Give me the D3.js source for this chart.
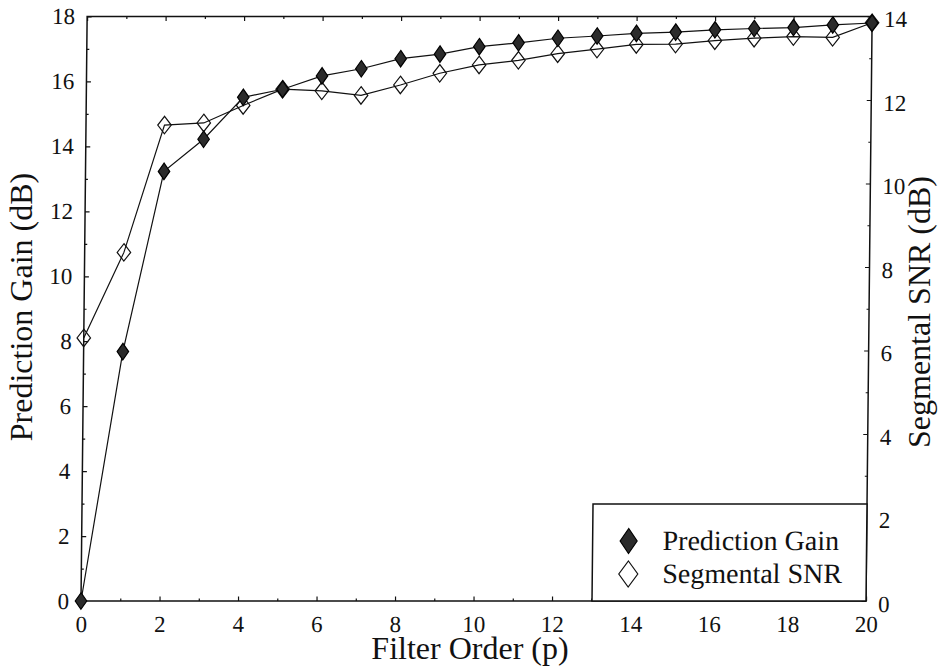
<!DOCTYPE html>
<html><head><meta charset="utf-8">
<script src="https://cdn.jsdelivr.net/npm/d3@7"></script>
</head>
<body style="margin:0;background:#fff"><svg id="c" width="943" height="670"></svg>
<script>
const filterOrder = [0,1,2,3,4,5,6,7,8,9,10,11,12,13,14,15,16,17,18,19,20];
const predictionGain = [0, 7.68, 13.23, 14.22, 15.51, 15.76, 16.17, 16.39, 16.70, 16.84, 17.07, 17.19, 17.33, 17.40, 17.48, 17.52, 17.59, 17.63, 17.66, 17.74, 17.80];
const segmentalSNR = [6.30, 8.35, 11.40, 11.45, 11.87, 12.26, 12.22, 12.11, 12.36, 12.64, 12.84, 12.95, 13.11, 13.22, 13.33, 13.34, 13.42, 13.48, 13.52, 13.50, 13.85];
const xTicks = [0,2,4,6,8,10,12,14,16,18,20];
const leftTicks = [0,2,4,6,8,10,12,14,16,18];
const rightTicks = [0,2,4,6,8,10,12,14];
const legendLabels = ["Prediction Gain","Segmental SNR"];

const fam = "Liberation Serif";
const FONT = `'${fam}', monospace`;
const L = 81, R = 866, T = 16.5, B = 601;
const k = -0.0105;
const svg = d3.select("#c");
svg.append("rect").attr("width",943).attr("height",670).attr("fill","#fff");
const g = svg.append("g").attr("transform", `matrix(1,0,${k},1,${-k*B},0)`);

const x = d3.scaleLinear().domain([0,20]).range([L,R]);
const yL = d3.scaleLinear().domain([0,18]).range([B,T]);
const yR = d3.scaleLinear().domain([0,14]).range([B,T]);

const odd = (n) => d3.range(1,n,2);

function styleAxis(sel, fs){
  sel.attr("font-family", null);
  sel.select(".domain").remove();
  sel.selectAll("line").attr("stroke","#111").attr("stroke-width",1.2);
  sel.selectAll("text").attr("font-size",fs).attr("fill","#111");
}

// bottom
g.append("g").attr("transform",`translate(0,${B})`)
  .call(d3.axisBottom(x).tickValues(xTicks).tickSize(-4.5).tickPadding(9).tickFormat(d3.format("d")))
  .call(s=>styleAxis(s,23)).call(s=>s.selectAll("text").attr("dy","0.95em"));
g.append("g").attr("transform",`translate(0,${B})`)
  .call(d3.axisBottom(x).tickValues(odd(20)).tickSize(-2.5).tickFormat(""))
  .call(s=>styleAxis(s,23));
// top
g.append("g").attr("transform",`translate(0,${T})`)
  .call(d3.axisTop(x).tickValues(xTicks).tickSize(-4.5).tickFormat(""))
  .call(s=>styleAxis(s,23));
g.append("g").attr("transform",`translate(0,${T})`)
  .call(d3.axisTop(x).tickValues(odd(20)).tickSize(-2.5).tickFormat(""))
  .call(s=>styleAxis(s,23));
// left
g.append("g").attr("transform",`translate(${L},0)`)
  .call(d3.axisLeft(yL).tickValues(leftTicks).tickSize(-4.5).tickPadding(12).tickFormat(d3.format("d")))
  .call(s=>styleAxis(s,23));
g.append("g").attr("transform",`translate(${L},0)`)
  .call(d3.axisLeft(yL).tickValues(odd(18)).tickSize(-2.5).tickFormat(""))
  .call(s=>styleAxis(s,23));
// right
g.append("g").attr("transform",`translate(${R},0)`)
  .call(d3.axisRight(yR).tickValues(rightTicks).tickSize(-4.5).tickPadding(12).tickFormat(d3.format("d")))
  .call(s=>styleAxis(s,23)).call(s=>s.selectAll("text").attr("dy","0.45em"));
g.append("g").attr("transform",`translate(${R},0)`)
  .call(d3.axisRight(yR).tickValues(odd(14)).tickSize(-2.5).tickFormat(""))
  .call(s=>styleAxis(s,23));

// frame
g.append("rect").attr("x",L).attr("y",T).attr("width",R-L).attr("height",B-T)
  .attr("fill","none").attr("stroke","#111").attr("stroke-width",1.5);

// legend box
const lgX = 592, lgY = 504;
g.append("rect").attr("x",lgX).attr("y",lgY).attr("width",R-lgX).attr("height",B-lgY)
  .attr("fill","#fff").attr("stroke","#111").attr("stroke-width",1.5);

function diamond(w,h){ return `M0,${-h/2}L${w/2},0L0,${h/2}L${-w/2},0Z`; }

const line = d3.line();
// Segmental SNR (open)
const snrPts = filterOrder.map((p,i)=>[x(p), yR(segmentalSNR[i])]);
g.append("path").attr("d",line(snrPts)).attr("fill","none").attr("stroke","#111").attr("stroke-width",1.2);
g.selectAll(".snr").data(snrPts).join("path").attr("class","snr")
  .attr("transform",d=>`translate(${d[0]},${d[1]})`).attr("d",diamond(13.5,17.5))
  .attr("fill","none").attr("stroke","#111").attr("stroke-width",1.2);
// Prediction gain (filled)
const pgPts = filterOrder.map((p,i)=>[x(p), yL(predictionGain[i])]);
g.append("path").attr("d",line(pgPts)).attr("fill","none").attr("stroke","#111").attr("stroke-width",1.2);
g.selectAll(".pg").data(pgPts).join("path").attr("class","pg")
  .attr("transform",d=>`translate(${d[0]},${d[1]})`).attr("d",diamond(11.5,16.5))
  .attr("fill","#2b2b2b").attr("stroke","#000").attr("stroke-width",1.2);

// legend entries
g.append("path").attr("transform","translate(628,541)").attr("d",diamond(17,25))
  .attr("fill","#2b2b2b").attr("stroke","#000").attr("stroke-width",1.2);
g.append("path").attr("transform","translate(628,574)").attr("d",diamond(19,26))
  .attr("fill","none").attr("stroke","#111").attr("stroke-width",1.2);
g.append("text").attr("x",662).attr("y",550).attr("font-size",28).text(legendLabels[0]);
g.append("text").attr("x",662).attr("y",583).attr("font-size",28).text(legendLabels[1]);

// titles
svg.append("text").attr("x",470).attr("y",659).attr("text-anchor","middle").attr("font-size",32).text("Filter Order (p)");
svg.append("text").attr("transform","translate(32,307) rotate(-90)").attr("text-anchor","middle").attr("font-size",32).text("Prediction Gain (dB)");
svg.append("text").attr("transform","translate(930,312) rotate(-90)").attr("text-anchor","middle").attr("font-size",32).text("Segmental SNR (dB)");

svg.selectAll("text").style("font-family", FONT).style("fill","#111");
</script></body></html>
